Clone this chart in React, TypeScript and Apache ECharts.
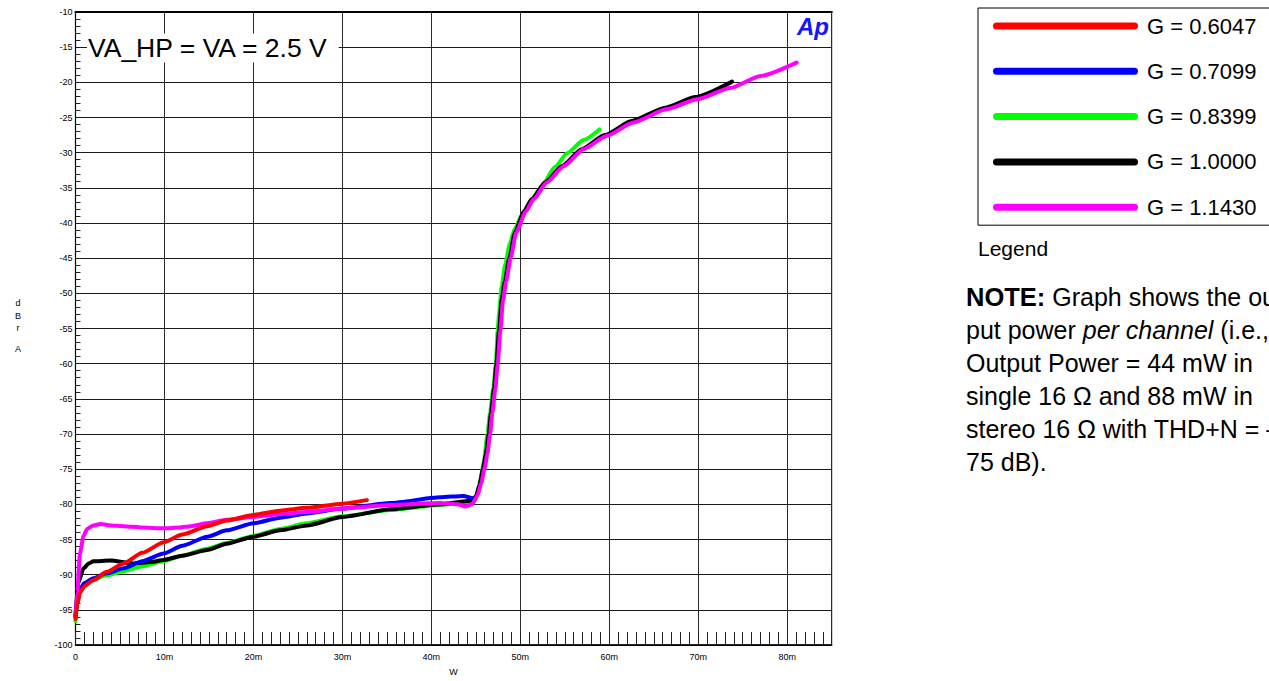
import React, { useEffect, useRef } from "react";
import * as echarts from "echarts";

// X values in mW (axis labels "10m" = 10 mW), Y values in dBrA
const seriesNames = ["G = 0.6047", "G = 0.7099", "G = 0.8399", "G = 1.0000", "G = 1.1430"];
const seriesColors = ["#ff0000", "#0000ff", "#00ff00", "#000000", "#ff00ff"];

const redData: [number, number][] = [
  [0, -96.3], [0.2, -94.2], [0.5, -92.6], [1.0, -91.6], [2.0, -90.8], [3.5, -89.6], [5.4, -88.4],
  [7.5, -86.9], [9.9, -85.4], [12, -84.3], [14.8, -83.1], [17, -82.3], [20, -81.5], [23, -80.9],
  [26, -80.5], [30, -79.9], [32.75, -79.4],
];
const blueData: [number, number][] = [
  [0, -96.0], [0.2, -94.0], [0.5, -92.1], [1.0, -91.2], [2.0, -90.5], [3.5, -89.8], [5.4, -89.1],
  [7.5, -88.1], [9.9, -87.0], [12, -85.9], [14.8, -84.6], [17, -83.7], [20, -82.7], [23, -81.9],
  [26, -81.3], [30, -80.6], [35.4, -79.8], [41, -79.0], [43.6, -78.8], [44.8, -79.2],
];
const greenData: [number, number][] = [
  [0, -96.6], [0.2, -94.0], [0.5, -92.1], [1.0, -91.3], [2.0, -90.7], [3.5, -90.1], [5.4, -89.5],
  [7.5, -88.8], [9.9, -88.1], [12, -87.3], [14.8, -86.3], [17, -85.5], [20, -84.5], [23, -83.5],
  [26, -82.7], [30, -81.7], [35.4, -80.8], [41, -80.1], [44.75, -79.6], [45.2, -78.5], [45.5, -76.5],
  [45.9, -74.0], [46.3, -70.0], [46.6, -67.0], [46.95, -63.5], [47.25, -60.1], [47.45, -55.4],
  [47.6, -53.0], [47.9, -49.0], [48.3, -45.9], [48.8, -43.0], [49.4, -40.8], [50.2, -38.8],
  [51.2, -36.8], [52.25, -35.1], [53.9, -32.0], [55.25, -30.1], [57.1, -28.2], [58.9, -26.7],
];
const blackData: [number, number][] = [
  [0, -95.8], [0.3, -91.2], [0.9, -89.1], [1.5, -88.4], [2.0, -88.1], [3.9, -88.0], [6.5, -88.4],
  [8.5, -88.2], [9.9, -87.9], [12, -87.3], [14.8, -86.5], [17, -85.6], [20, -84.6], [23, -83.7],
  [26, -83.0], [30, -81.8], [35.4, -80.7], [41, -80.0], [44.4, -79.5], [45.0, -78.9], [45.4, -77.3],
  [45.8, -75.0], [46.1, -73.0], [46.45, -70.0], [46.7, -67.0], [47.05, -63.5], [47.3, -60.1],
  [47.6, -55.4], [47.9, -51.0], [48.25, -48.3], [48.75, -45.0], [49.4, -41.3], [50.4, -38.4],
  [51.3, -36.6], [52.8, -34.2], [54.7, -31.9], [56.9, -29.5], [59.5, -27.5], [62.5, -25.5],
  [66.3, -23.6], [69.7, -22.1], [73.8, -19.9],
];
const magentaData: [number, number][] = [
  [0, -96.0], [0.2, -92.5], [0.5, -87.0], [0.9, -84.5], [1.3, -83.5], [2.0, -83.0], [2.8, -82.8],
  [4.0, -83.0], [5.4, -83.1], [7.5, -83.3], [9.9, -83.4], [11.7, -83.3], [13.0, -83.1], [14.8, -82.7],
  [17, -82.2], [20, -81.8], [23, -81.4], [26, -81.1], [30, -80.6], [35.4, -80.1], [41, -79.8],
  [43.0, -80.0], [43.8, -80.3], [44.6, -80.0], [45.2, -78.7], [45.6, -77.0], [46.0, -74.8],
  [46.3, -72.8], [46.6, -70.0], [46.85, -67.0], [47.2, -63.5], [47.45, -60.1], [47.75, -55.4],
  [48.05, -51.0], [48.4, -48.3], [48.9, -45.0], [49.55, -41.3], [50.6, -38.4], [51.5, -36.6],
  [53, -34.2], [54.9, -31.9], [57.1, -29.5], [59.75, -27.6], [62.7, -25.7], [66.5, -23.8],
  [69.9, -22.4], [73.6, -20.8], [77, -19.1], [81.05, -17.2],
];

const allData = [redData, blueData, greenData, blackData, magentaData];
// drawing order (back to front): green, black, blue, magenta, red
const drawOrder = [2, 3, 1, 4, 0];

const X_MIN = 0;
const X_MAX = 85;
const X_INTERVAL = 10;
const Y_MIN = -100;
const Y_MAX = -10;
const Y_INTERVAL = 5;

const FONT = "Liberation Sans, Arial, Helvetica, sans-serif";

export default function App() {
  const ref = useRef<HTMLDivElement>(null);

  useEffect(() => {
    if (!ref.current) return;
    const chart = echarts.init(ref.current, null, { renderer: "svg" });

    const series = drawOrder.map((i) => ({
      name: seriesNames[i],
      type: "line",
      data: allData[i],
      showSymbol: false,
      symbol: "none",
      smooth: 0.2,
      smoothMonotone: "x",
      color: seriesColors[i],
      lineStyle: { color: seriesColors[i], width: 4, cap: "round", join: "round" },
      xAxisIndex: 0,
      yAxisIndex: 0,
      z: 3,
    }));

    const option: any = {
      animation: false,
      backgroundColor: "#ffffff",
      textStyle: { fontFamily: FONT },
      grid: {
        left: 75.5,
        top: 12,
        right: 437.3,
        bottom: 32,
        show: true,
        borderColor: "#000",
        borderWidth: 1,
        backgroundColor: "transparent",
      },
      legend: {
        data: seriesNames,
        orient: "vertical",
        left: 978,
        top: 8,
        padding: [7, 40, 7, 15],
        borderColor: "#000",
        borderWidth: 1,
        itemWidth: 145,
        itemHeight: 7,
        itemGap: 23.3,
        selectedMode: false,
        icon: "path://M3.5,0H141.5A3.5,3.5,0,0,1,141.5,7H3.5A3.5,3.5,0,0,1,3.5,0Z",
        textStyle: {
          fontSize: 22,
          lineHeight: 22,
          color: "#000",
          fontFamily: FONT,
          padding: [0, 0, 0, 4],
        },
      },
      xAxis: [
        {
          type: "value",
          min: X_MIN,
          max: X_MAX,
          interval: X_INTERVAL,
          position: "bottom",
          name: "W",
          nameLocation: "middle",
          nameGap: 22,
          nameTextStyle: { fontSize: 9, color: "#000", fontFamily: FONT },
          axisLine: { show: true, lineStyle: { color: "#000", width: 1.5 } },
          axisTick: { show: false },
          axisLabel: {
            show: true,
            fontSize: 9,
            color: "#000",
            fontFamily: FONT,
            margin: 7,
            showMaxLabel: false,
            formatter: (v: number) => (v === 0 ? "0" : `${v}m`),
          },
          splitLine: { show: true, lineStyle: { color: "#2a2a2a", width: 1 } },
        },
        {
          type: "value",
          min: X_MIN,
          max: X_MAX,
          interval: 1,
          position: "bottom",
          axisLine: { show: false },
          axisTick: { show: true, inside: true, length: 13, lineStyle: { color: "#222", width: 1 } },
          axisLabel: { show: false },
          splitLine: { show: false },
        },
        {
          type: "value",
          min: X_MIN,
          max: X_MAX,
          interval: X_INTERVAL,
          position: "top",
          axisLine: { show: true, lineStyle: { color: "#000", width: 2.2 } },
          axisTick: { show: false },
          axisLabel: { show: false },
          splitLine: { show: false },
        },
      ],
      yAxis: [
        {
          type: "value",
          min: Y_MIN,
          max: Y_MAX,
          interval: Y_INTERVAL,
          position: "left",
          axisLine: { show: true, lineStyle: { color: "#000", width: 1.2 } },
          axisTick: { show: false, inside: true },
          minorTick: { show: true, splitNumber: 5, length: 5, lineStyle: { color: "#222", width: 1 } },
          axisLabel: { show: true, fontSize: 9, color: "#000", fontFamily: FONT, margin: 3 },
          splitLine: { show: true, lineStyle: { color: "#1a1a1a", width: 1 } },
        },
      ],
      graphic: [
        {
          type: "text",
          x: 87,
          y: 48,
          z: 10,
          style: {
            text: "VA_HP = VA = 2.5 V",
            fontSize: 26.5,
            fontFamily: FONT,
            fill: "#000",
            backgroundColor: "#ffffff",
            padding: [1, 10, 1, 1],
            verticalAlign: "middle",
            align: "left",
          },
        },
        {
          type: "text",
          x: 813,
          y: 26,
          z: 10,
          style: {
            text: "Ap",
            fontSize: 24,
            fontWeight: "bold",
            fontStyle: "italic",
            fontFamily: FONT,
            fill: "#1414ff",
            align: "center",
            verticalAlign: "middle",
          },
        },
        {
          type: "text",
          x: 18,
          y: 315.5,
          style: {
            text: "d\nB\nr",
            fontSize: 9,
            lineHeight: 12.7,
            fontFamily: FONT,
            fill: "#000",
            align: "center",
            verticalAlign: "middle",
          },
        },
        {
          type: "text",
          x: 18,
          y: 349,
          style: {
            text: "A",
            fontSize: 9,
            fontFamily: FONT,
            fill: "#000",
            align: "center",
            verticalAlign: "middle",
          },
        },
        {
          type: "text",
          x: 978,
          y: 248,
          style: {
            text: "Legend",
            fontSize: 21,
            fontFamily: FONT,
            fill: "#000",
            align: "left",
            verticalAlign: "middle",
          },
        },
        {
          type: "text",
          x: 966,
          y: 280.5,
          style: {
            text:
              "{b|NOTE:} Graph shows the out-\n" +
              "put power {i|per channel} (i.e.,\n" +
              "Output Power = 44 mW in\n" +
              "single 16 Ω and 88 mW in\n" +
              "stereo 16 Ω with THD+N = –\n" +
              "75 dB).",
            fontSize: 25,
            lineHeight: 33,
            fontFamily: FONT,
            fill: "#000",
            align: "left",
            verticalAlign: "top",
            rich: {
              b: { fontSize: 25.5, lineHeight: 33, fontWeight: "bold", fontFamily: FONT, fill: "#000" },
              i: { fontSize: 25, lineHeight: 33, fontStyle: "italic", fontFamily: FONT, fill: "#000" },
            },
          },
        },
      ],
      series,
    };

    chart.setOption(option);
    return () => {
      chart.dispose();
    };
  }, []);

  return (
    <div
      ref={ref}
      style={{
        position: "absolute",
        left: 0,
        top: 0,
        width: 1269,
        height: 681,
        overflow: "hidden",
        background: "#fff",
      }}
    />
  );
}
